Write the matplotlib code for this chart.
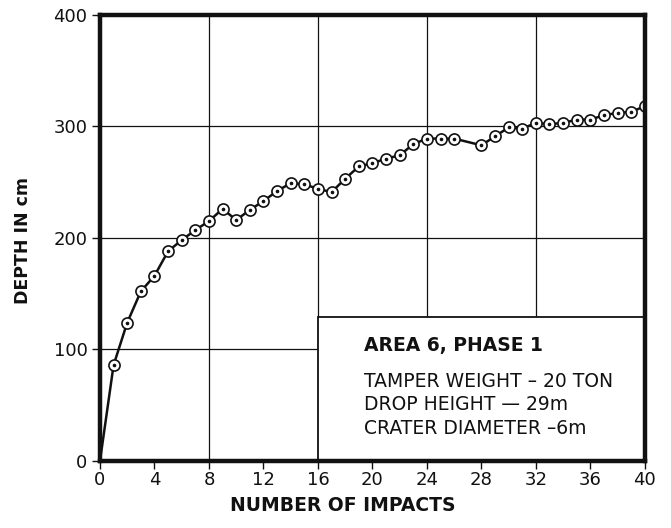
import matplotlib
matplotlib.use("Agg")
import matplotlib.pyplot as plt
from matplotlib.patches import Rectangle

# (no reading at 27 impacts)
impacts = [0, 1, 2, 3, 4, 5, 6, 7, 8, 9, 10, 11, 12, 13, 14, 15, 16, 17, 18, 19, 20,
           21, 22, 23, 24, 25, 26, 28, 29, 30, 31, 32, 33, 34, 35, 36, 37, 38, 39, 40]
depth = [0, 86, 124, 152, 166, 188, 198, 207, 215, 226, 216, 225, 233, 242, 249, 248, 244, 241, 253, 264, 267,
         271, 274, 284, 289, 289, 289, 283, 291, 299, 298, 303, 302, 303, 306, 306, 310, 312, 313, 318]

x_ticks = list(range(0, 41, 4))
y_ticks = [0, 100, 200, 300, 400]
x_grid = [8, 16, 24, 32]
y_grid = [100, 200, 300]

title_line = "AREA 6, PHASE 1"
info_lines = ["TAMPER WEIGHT \u2013 20 TON", "DROP HEIGHT \u2014 29m", "CRATER DIAMETER \u20136m"]

ink = "#111111"
plt.rcParams["font.family"] = ["DejaVu Sans"]

fig = plt.figure(figsize=(6.71, 5.28), dpi=100)
ax = fig.add_axes([0.149, 0.127, 0.812, 0.845])

ax.set_xlim(0, 40)
ax.set_ylim(0, 400)

# grid
for gx in x_grid:
    ax.axvline(gx, color=ink, linewidth=0.9, zorder=1)
for gy in y_grid:
    ax.axhline(gy, color=ink, linewidth=0.9, zorder=1)

# info box, hides the grid beneath it
box = Rectangle((16, 0), 24, 129, facecolor="white", edgecolor=ink,
                linewidth=1.3, zorder=2)
ax.add_patch(box)

ax.text(0.484, 0.259, title_line, transform=ax.transAxes, fontsize=13.5,
        fontweight="bold", color=ink, va="center", ha="left", zorder=5)
for i, line in enumerate(info_lines):
    ax.text(0.484, 0.178 - i * 0.0525, line, transform=ax.transAxes, fontsize=13.5,
            color=ink, va="center", ha="left", zorder=5)

# curve and markers
ax.plot(impacts, depth, color=ink, linewidth=1.8, zorder=3)
ax.plot(impacts[1:], depth[1:], "o", markersize=8, markerfacecolor="white",
        markeredgecolor=ink, markeredgewidth=1.2, zorder=4)
ax.plot(impacts[1:], depth[1:], "o", markersize=1.6, color=ink, zorder=5)

ax.set_xticks(x_ticks)
ax.set_yticks(y_ticks)
ax.tick_params(direction="out", length=6, width=1, colors=ink, labelsize=13, pad=3)
ax.tick_params(axis="x", pad=1)

for s in ax.spines.values():
    s.set_linewidth(3.2)
    s.set_color(ink)
    s.set_zorder(6)

ax.set_xlabel("NUMBER OF IMPACTS", fontsize=13.5, fontweight="bold", color=ink)
ax.set_ylabel("DEPTH IN cm", fontsize=12.5, fontweight="bold", color=ink)
ax.xaxis.set_label_coords(0.446, -0.078)
ax.yaxis.set_label_coords(-0.124, 0.495)

fig.savefig("out.png", dpi=100)
